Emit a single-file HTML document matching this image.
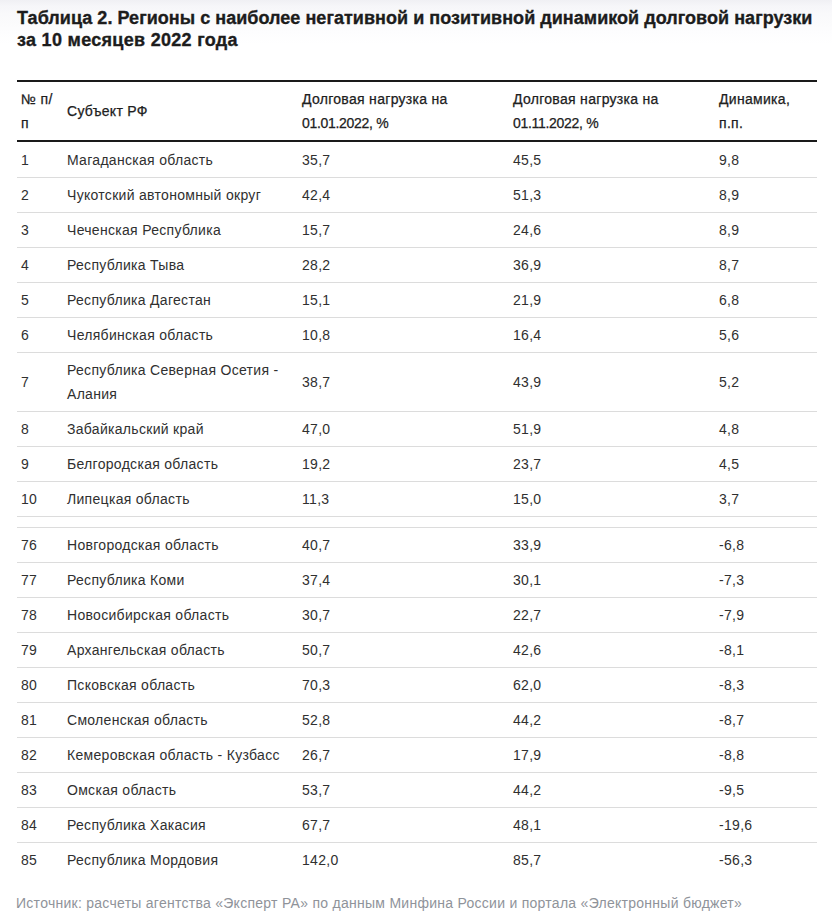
<!DOCTYPE html>
<html lang="ru"><head><meta charset="utf-8">
<style>
html,body{margin:0;padding:0;background:#fff;}
body{width:832px;height:922px;overflow:hidden;position:relative;font-family:"Liberation Sans",sans-serif;color:#222;}
.grad{position:absolute;left:0;top:0;width:832px;height:46px;background:linear-gradient(#f0f0f4 0px,#f6f6f9 6px,#f9f9fb 14px,#fbfbfc 24px,#fdfdfe 33px,#fff 44px);}
.nd{letter-spacing:-0.3px;}
.l2{letter-spacing:0.3px;}
h1{white-space:nowrap;position:absolute;left:17px;top:7px;letter-spacing:0.04px;margin:0;font-size:18px;line-height:22px;font-weight:700;color:#1c1c1c;-webkit-text-stroke:0.35px #1c1c1c;width:810px;}
table{position:absolute;left:17px;top:80px;width:800px;border-collapse:collapse;table-layout:fixed;font-size:14px;line-height:24px;letter-spacing:0.3px;}
td:first-child,th:first-child{padding-left:4px;}
tbody tr:first-child td{padding-top:6px;}
table td{color:#303030;}
table td, table th{padding:5px 5px;vertical-align:middle;text-align:left;border-bottom:1px solid #dcdcdc;}
thead tr{border-top:2px solid #1a1a1a;}
thead th{font-weight:400;-webkit-text-stroke:0.25px #1a1a1a;border-bottom:2px solid #1a1a1a;}
tbody tr:last-child td{border-bottom:none;}
tr.gap td{padding:5px;height:0;line-height:0;}
.src{position:absolute;left:16px;letter-spacing:0.27px;top:893px;font-size:14px;line-height:20px;color:#8f939a;white-space:nowrap;}
</style></head><body>
<div class="grad"></div>
<h1>Таблица 2. Регионы с наиболее негативной и позитивной динамикой долговой нагрузки<br><span class="l2">за 10 месяцев 2022 года</span></h1>
<table>
<colgroup><col style="width:45px"><col style="width:235px"><col style="width:211px"><col style="width:206px"><col style="width:103px"></colgroup>
<thead><tr><th>№ п/<br>п</th><th>Субъект РФ</th><th>Долговая нагрузка на<br><span class="nd">01.01.2022, %</span></th><th>Долговая нагрузка на<br><span class="nd">01.11.2022, %</span></th><th>Динамика,<br>п.п.</th></tr></thead>
<tbody>
<tr><td>1</td><td>Магаданская область</td><td>35,7</td><td>45,5</td><td>9,8</td></tr>
<tr><td>2</td><td>Чукотский автономный округ</td><td>42,4</td><td>51,3</td><td>8,9</td></tr>
<tr><td>3</td><td>Чеченская Республика</td><td>15,7</td><td>24,6</td><td>8,9</td></tr>
<tr><td>4</td><td>Республика Тыва</td><td>28,2</td><td>36,9</td><td>8,7</td></tr>
<tr><td>5</td><td>Республика Дагестан</td><td>15,1</td><td>21,9</td><td>6,8</td></tr>
<tr><td>6</td><td>Челябинская область</td><td>10,8</td><td>16,4</td><td>5,6</td></tr>
<tr><td>7</td><td>Республика Северная Осетия -<br>Алания</td><td>38,7</td><td>43,9</td><td>5,2</td></tr>
<tr><td>8</td><td>Забайкальский край</td><td>47,0</td><td>51,9</td><td>4,8</td></tr>
<tr><td>9</td><td>Белгородская область</td><td>19,2</td><td>23,7</td><td>4,5</td></tr>
<tr><td>10</td><td>Липецкая область</td><td>11,3</td><td>15,0</td><td>3,7</td></tr>
<tr class="gap"><td></td><td></td><td></td><td></td><td></td></tr>
<tr><td>76</td><td>Новгородская область</td><td>40,7</td><td>33,9</td><td>-6,8</td></tr>
<tr><td>77</td><td>Республика Коми</td><td>37,4</td><td>30,1</td><td>-7,3</td></tr>
<tr><td>78</td><td>Новосибирская область</td><td>30,7</td><td>22,7</td><td>-7,9</td></tr>
<tr><td>79</td><td>Архангельская область</td><td>50,7</td><td>42,6</td><td>-8,1</td></tr>
<tr><td>80</td><td>Псковская область</td><td>70,3</td><td>62,0</td><td>-8,3</td></tr>
<tr><td>81</td><td>Смоленская область</td><td>52,8</td><td>44,2</td><td>-8,7</td></tr>
<tr><td>82</td><td>Кемеровская область - Кузбасс</td><td>26,7</td><td>17,9</td><td>-8,8</td></tr>
<tr><td>83</td><td>Омская область</td><td>53,7</td><td>44,2</td><td>-9,5</td></tr>
<tr><td>84</td><td>Республика Хакасия</td><td>67,7</td><td>48,1</td><td>-19,6</td></tr>
<tr><td>85</td><td>Республика Мордовия</td><td>142,0</td><td>85,7</td><td>-56,3</td></tr>
</tbody></table>
<div class="src">Источник: расчеты агентства «Эксперт РА» по данным Минфина России и портала «Электронный бюджет»</div>
</body></html>
